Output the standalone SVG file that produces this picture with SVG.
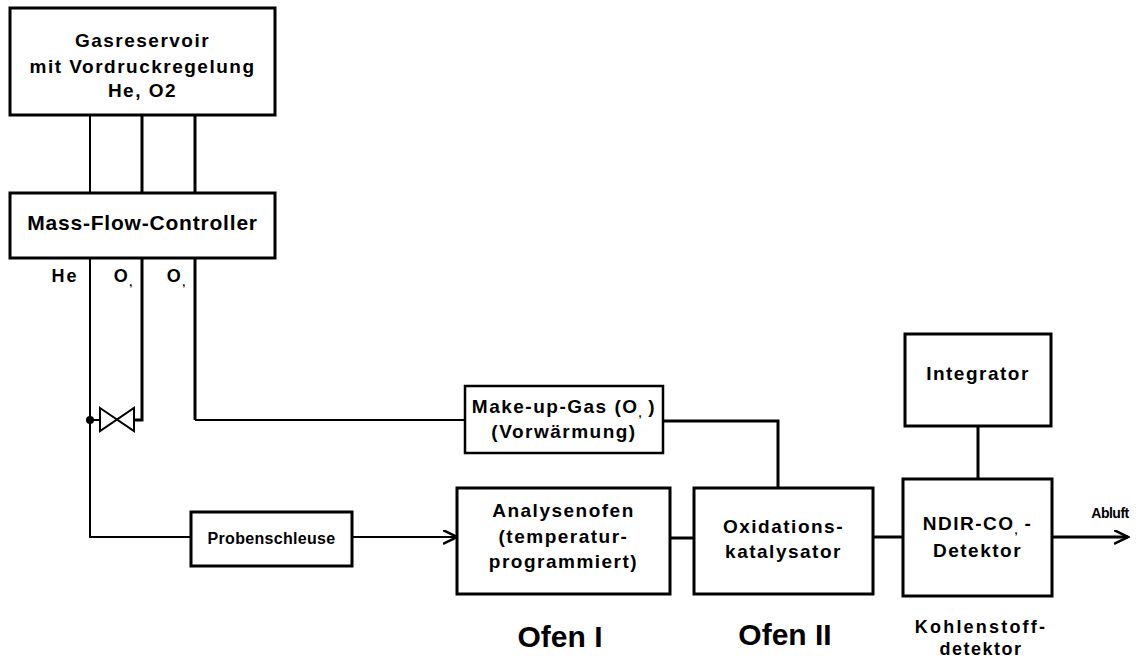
<svg xmlns="http://www.w3.org/2000/svg" width="1144" height="663" viewBox="0 0 1144 663">
<style>
.box{fill:#fff;stroke:#000;stroke-width:3}
.t{font-family:"Liberation Sans",Arial,sans-serif;font-weight:bold;fill:#000;text-anchor:middle;font-size:19px;letter-spacing:1.5px}
.sub{font-size:11px;letter-spacing:0}
.thin{fill:none;stroke:#000;stroke-width:2}
.thick{fill:none;stroke:#000;stroke-width:3}
.big{font-size:30px;letter-spacing:0}
</style>
<defs>
<marker id="arr" markerWidth="16" markerHeight="16" refX="14" refY="7" orient="auto" markerUnits="userSpaceOnUse">
<path d="M0,0 L14,7 L0,14" fill="none" stroke="#000" stroke-width="2.5"/>
</marker>
</defs>
<rect width="1144" height="663" fill="#fff"/>
<g id="connectors">
<line class="thin" x1="90" y1="115" x2="90" y2="193"/>
<line class="thick" x1="142" y1="115" x2="142" y2="193"/>
<line class="thick" x1="195" y1="115" x2="195" y2="193"/>
<polyline class="thin" points="90,258 90,537 191,537"/>
<polyline class="thick" points="142,258 142,420 134,420"/>
<line class="thin" x1="90" y1="420" x2="100" y2="420"/>
<line class="thick" x1="195" y1="258" x2="195" y2="420"/>
<line class="thin" x1="195" y1="420" x2="465" y2="420"/>
<line class="thin" x1="352" y1="537" x2="457" y2="537" marker-end="url(#arr)"/>
<polyline class="thick" points="663,421 778,421 778,488"/>
<line class="thick" x1="670" y1="538" x2="694" y2="538"/>
<line class="thick" x1="873" y1="537" x2="903" y2="537"/>
<line class="thick" x1="978" y1="426" x2="978" y2="479"/>
<line class="thick" x1="1052" y1="537" x2="1128" y2="537" marker-end="url(#arr)"/>
<circle cx="90" cy="420" r="4" fill="#000"/>
</g>
<g id="gasreservoir">
<rect class="box" x="10" y="8" width="265" height="107"/>
<text class="t" x="142.5" y="47">Gasreservoir</text>
<text class="t" x="142.5" y="73">mit Vordruckregelung</text>
<text class="t" x="142.5" y="97">He, O2</text>
</g>
<g id="mfc">
<rect class="box" x="10" y="193" width="265" height="65"/>
<text class="t" x="142.5" y="230" style="font-size:21px;letter-spacing:0.8px">Mass-Flow-Controller</text>
</g>
<g id="mfc-labels">
<text class="t" x="65" y="282" style="font-size:18px;letter-spacing:2px">He</text>
<text class="t" x="123" y="282" style="font-size:18px">O<tspan class="sub" dy="4">,</tspan></text>
<text class="t" x="176" y="282" style="font-size:18px">O<tspan class="sub" dy="4">,</tspan></text>
</g>
<g id="valve">
<path d="M100,408 L134,431 L134,408 L100,431 Z" fill="#fff" stroke="#000" stroke-width="2"/>
</g>
<g id="makeup">
<rect class="box" x="465" y="386" width="198" height="67" style="stroke-width:2.5"/>
<text class="t" x="564" y="413">Make-up-Gas (O<tspan class="sub" dy="4">,</tspan><tspan dy="-4"> )</tspan></text>
<text class="t" x="564" y="438">(Vorwärmung)</text>
</g>
<g id="probenschleuse">
<rect class="box" x="191" y="512" width="161" height="54"/>
<text class="t" x="271.5" y="544" style="font-size:16px;letter-spacing:0.3px">Probenschleuse</text>
</g>
<g id="analysenofen">
<rect class="box" x="457" y="488" width="213" height="106"/>
<text class="t" x="563.5" y="517">Analysenofen</text>
<text class="t" x="563.5" y="543">(temperatur-</text>
<text class="t" x="563.5" y="568">programmiert)</text>
</g>
<g id="oxidation">
<rect class="box" x="694" y="488" width="179" height="106"/>
<text class="t" x="783.5" y="533">Oxidations-</text>
<text class="t" x="783.5" y="558">katalysator</text>
</g>
<g id="integrator">
<rect class="box" x="905" y="334" width="146" height="92"/>
<text class="t" x="978" y="380">Integrator</text>
</g>
<g id="ndir">
<rect class="box" x="903" y="479" width="149" height="117"/>
<text class="t" x="977.5" y="530">NDIR-CO<tspan class="sub" dy="4">,</tspan><tspan dy="-4"> -</tspan></text>
<text class="t" x="977.5" y="557">Detektor</text>
</g>
<g id="labels">
<text class="t big" x="560" y="647">Ofen I</text>
<text class="t big" x="785" y="645">Ofen II</text>
<text class="t" x="981" y="633" style="font-size:18px;letter-spacing:2.2px">Kohlenstoff-</text>
<text class="t" x="981" y="655" style="font-size:18px">detektor</text>
<text class="t" x="1110" y="518" style="font-size:14px;letter-spacing:-0.5px">Abluft</text>
</g>
</svg>
